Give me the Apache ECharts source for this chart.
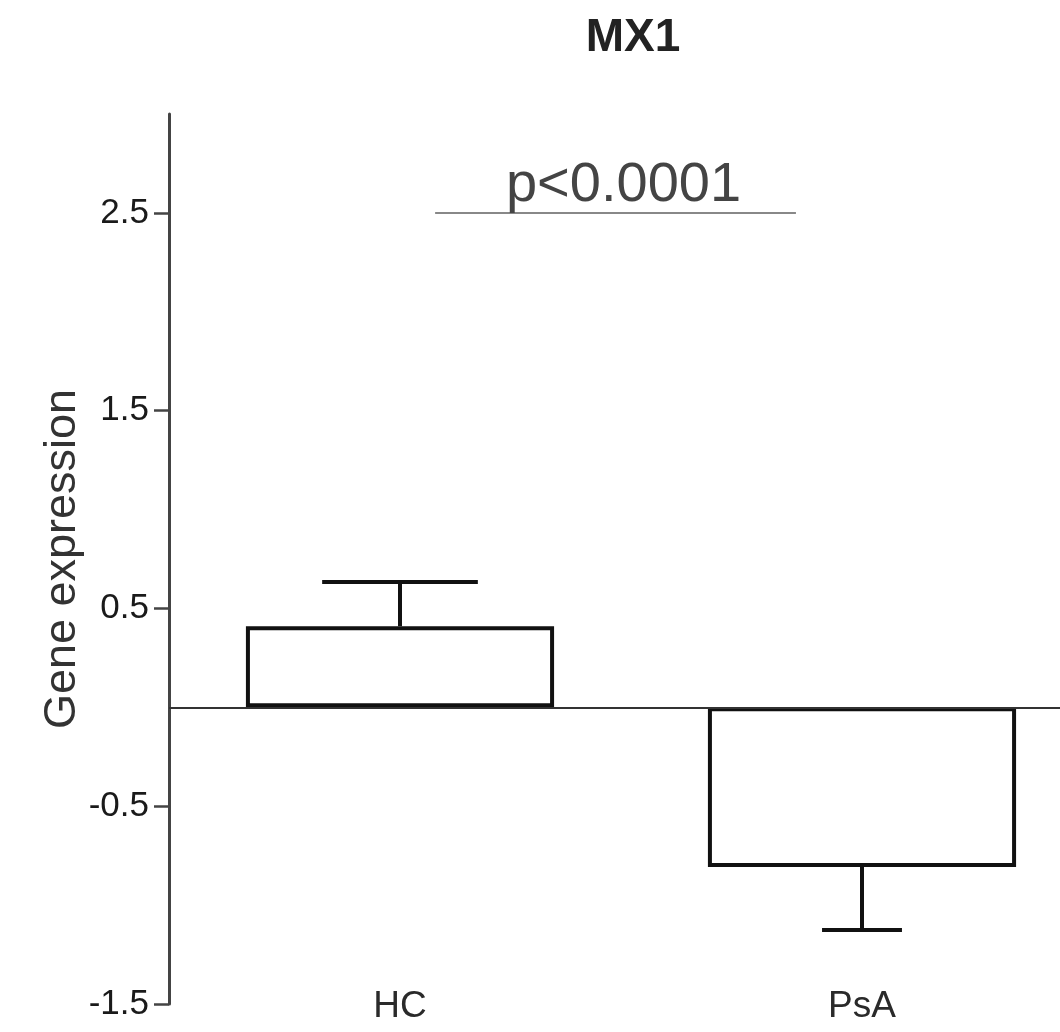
<!DOCTYPE html>
<html lang="en">
<head>
	<meta charset="UTF-8">
	<title>MX1</title>
	<style>
		html, body { margin: 0; padding: 0; background: #fff; }
		#box { width: 1060px; height: 1032px; }
	</style>
</head>
<body>
	<div id="box"></div>

	<script src="https://cdn.jsdelivr.net/npm/echarts@6/dist/echarts.min.js"></script>
	<script>
		// data
		var groups = ['HC', 'PsA'];
		var means = [0.41, -0.807];
		var errEnds = [0.634, -1.126];
		var yTicks = [-1.5, -0.5, 0.5, 1.5, 2.5];
		var sigLevel = 2.5;
		var sigText = 'p<0.0001';

		// cap width as part of the category band
		var capFrac = [0.337, 0.173];

		var font = 'Liberation Sans, Arial, sans-serif';
		var chart = echarts.init(document.getElementById('box'));

		var errData = groups.map(function (g, i) {
			return [i, means[i], errEnds[i]];
		});

		var option = {
			animation: false,
			title: {
				text: 'MX1',
				left: 628,
				top: 10,
				textAlign: 'center',
				textStyle: { fontFamily: font, fontSize: 46, fontWeight: 'bold', color: '#222' }
			},
			grid: { left: 169, top: 114, width: 924, height: 890, outerBoundsMode: 'none' },
			xAxis: {
				type: 'category',
				data: groups,
				axisLine: { show: false },
				axisTick: { show: false },
				axisLabel: {
					fontFamily: font, fontSize: 37, color: '#2a2a2a',
					verticalAlign: 'middle', margin: 3
				}
			},
			yAxis: {
				type: 'value',
				min: -1.5,
				max: 3,
				name: 'Gene expression',
				nameLocation: 'middle',
				nameGap: 84,
				nameMoveOverlap: false,
				nameTextStyle: { fontFamily: font, fontSize: 45, color: '#333' },
				splitLine: { show: false },
				axisLine: { show: true, onZero: false, lineStyle: { color: '#444', width: 3 } },
				axisTick: { show: true, length: 15, customValues: yTicks, lineStyle: { color: '#444', width: 2.5 } },
				axisLabel: {
					customValues: yTicks,
					fontFamily: font, fontSize: 35, color: '#1a1a1a', margin: 20,
					formatter: function (v) { return v.toFixed(1); }
				}
			},
			series: [{
				type: 'bar',
				data: means,
				barWidth: '66.7%',
				itemStyle: { color: 'rgba(255,255,255,0)', borderColor: '#111', borderWidth: 4 },
				markLine: {
					silent: true,
					symbol: 'none',
					label: { show: false },
					lineStyle: { color: '#333', width: 2, type: 'solid' },
					data: [{ yAxis: 0 }]
				}
			}, {
				type: 'custom',
				data: errData,
				renderItem: function (params, api) {
					var i = api.value(0);
					var base = api.coord([i, api.value(1)]);
					var end = api.coord([i, api.value(2)]);
					var half = api.size([1, 0])[0] * capFrac[i] / 2;
					var st = { stroke: '#111', lineWidth: 4 };
					return {
						type: 'group',
						children: [
							{ type: 'line', shape: { x1: base[0], y1: base[1], x2: end[0], y2: end[1] }, style: st },
							{ type: 'line', shape: { x1: end[0] - half, y1: end[1], x2: end[0] + half, y2: end[1] }, style: st }
						]
					};
				}
			}]
		};

		chart.setOption(option);

		// significance line and p value
		var a = chart.convertToPixel({ gridIndex: 0 }, [0, sigLevel]);
		var b = chart.convertToPixel({ gridIndex: 0 }, [1, sigLevel]);
		var band = b[0] - a[0];
		var x1 = a[0] + 0.076 * band;
		var x2 = b[0] - 0.143 * band;
		chart.setOption({
			graphic: [{
				type: 'line',
				shape: { x1: x1, y1: a[1], x2: x2, y2: a[1] },
				style: { stroke: '#888', lineWidth: 2 }
			}, {
				type: 'text',
				x: (x1 + x2) / 2 + 8,
				y: a[1] + 1,
				style: {
					text: sigText,
					fontFamily: font, fontSize: 56, fill: '#444',
					align: 'center', verticalAlign: 'bottom'
				}
			}]
		});
	</script>
</body>
</html>
